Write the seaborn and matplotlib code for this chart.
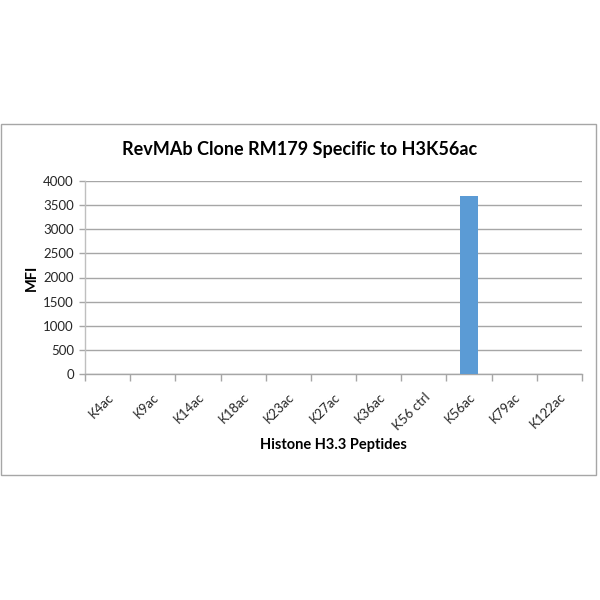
import matplotlib
matplotlib.use("Agg")
import matplotlib.pyplot as plt
from matplotlib.patches import Rectangle
from matplotlib.ticker import FixedLocator
import numpy as np
import pandas as pd
import seaborn as sns

# Values
peptides = ["K4ac", "K9ac", "K14ac", "K18ac", "K23ac", "K27ac",
            "K36ac", "K56 ctrl", "K56ac", "K79ac", "K122ac"]
mfi = [0, 0, 0, 0, 0, 0, 0, 0, 3690, 0, 0]
y_ticks = [0, 500, 1000, 1500, 2000, 2500, 3000, 3500, 4000]

sns.set_theme(style="white")
plt.rcParams["font.family"] = ["Lato", "DejaVu Sans"]

df = pd.DataFrame({"peptide": peptides, "mfi": mfi})

fig = plt.figure(figsize=(6, 6), dpi=100)
fig.patch.set_facecolor("white")

# outer chart frame
fig.patches.append(Rectangle((0.001, 1 - 475 / 600), 0.992, 351 / 600,
                             transform=fig.transFigure, fill=False,
                             edgecolor="#a6a6a6", linewidth=1.0))

ax = fig.add_axes([85 / 600, 1 - 374 / 600, 497 / 600, 193 / 600])
sns.barplot(data=df, x="peptide", y="mfi", order=peptides, color="#5B9BD5",
            width=0.4, saturation=1, edgecolor="#5B9BD5", linewidth=0,
            ax=ax, zorder=3)

ax.set_xlim(-0.5, len(peptides) - 0.5)
ax.set_ylim(0, 4000)
ax.set_yticks(y_ticks)
ax.set_yticklabels([str(t) for t in y_ticks], fontsize=9.5, color="#262626")
ax.yaxis.grid(True, color="#a6a6a6", linewidth=1.0, zorder=0)

ax.set_xticks(range(len(peptides)))
ax.set_xticklabels(peptides, rotation=45, ha="right", rotation_mode="anchor",
                   fontsize=9.5, color="#262626")
ax.tick_params(axis="x", which="major", length=0, pad=12)
ax.xaxis.set_minor_locator(FixedLocator(np.arange(-0.5, len(peptides), 1.0)))
ax.tick_params(axis="x", which="minor", length=5, width=1, color="#a6a6a6",
               direction="out", bottom=True)
ax.tick_params(axis="y", length=4, width=1, color="#a6a6a6", direction="out",
               left=True, pad=4)

for side in ["top", "right"]:
    ax.spines[side].set_visible(False)
ax.spines["left"].set_color("#bfbfbf")
ax.spines["bottom"].set_color("#a6a6a6")
ax.spines["left"].set_linewidth(1.0)
ax.spines["bottom"].set_linewidth(1.0)

ax.set_xlabel("Histone H3.3 Peptides", fontsize=10.5, fontweight="bold",
              color="#000000", labelpad=4)
ax.set_ylabel("MFI", fontsize=10.5, fontweight="bold", color="#000000",
              labelpad=3)

fig.text(0.5, 1 - 150 / 600, "RevMAb Clone RM179 Specific to H3K56ac",
         ha="center", va="center", fontsize=13, fontweight="bold",
         color="#000000")

fig.savefig("out.png", dpi=100, facecolor="white")
